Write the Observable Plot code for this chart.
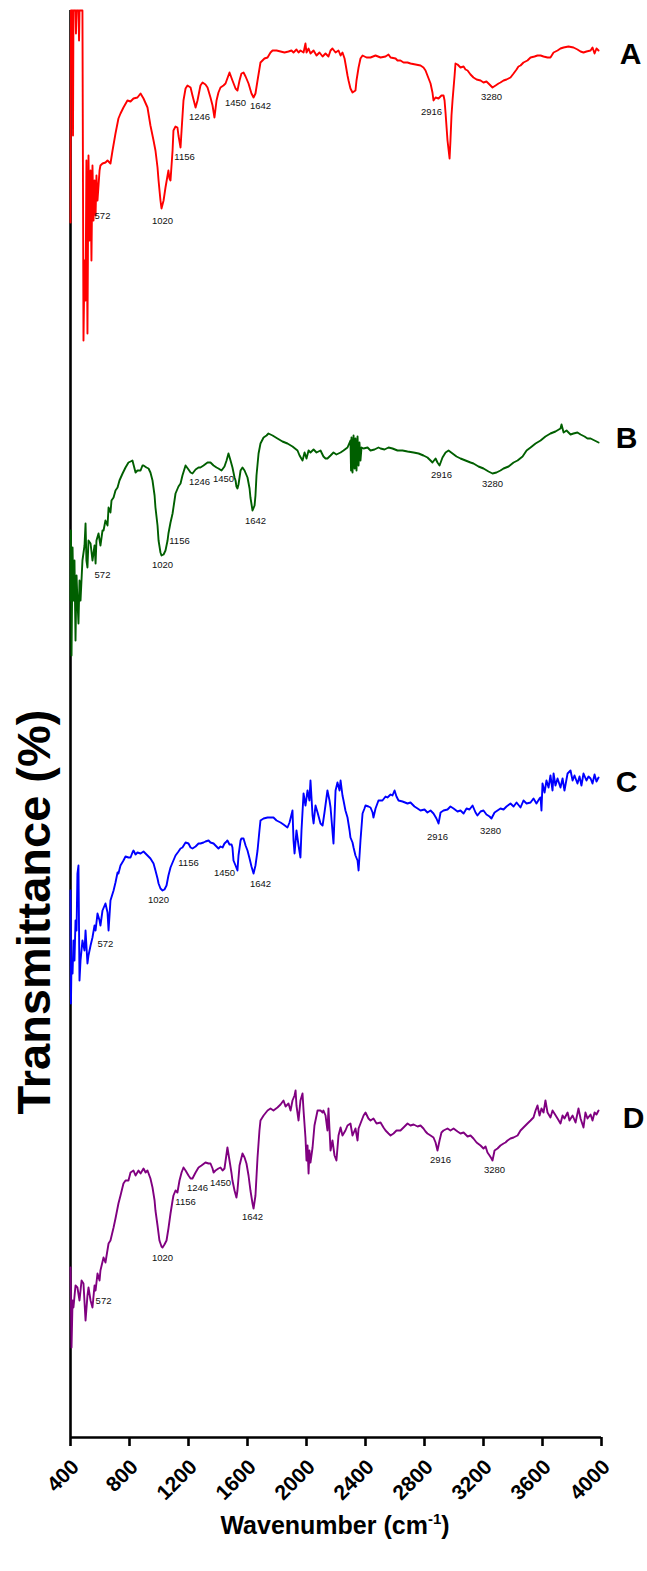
<!DOCTYPE html>
<html><head><meta charset="utf-8">
<script src="https://cdn.jsdelivr.net/npm/d3@7"></script>
<script src="https://cdn.jsdelivr.net/npm/@observablehq/plot@0.6"></script>
<style>body{margin:0;background:#fff;font-family:Arial,"Liberation Sans",sans-serif}</style>
</head><body><div id="chart"></div>
<script>
// FTIR spectra: [wavenumber (cm-1), stacked transmittance value]
const spectrumA = [[400,121.5],[403,142.7],[414,142.7],[417,130.2],[420,142.7],[434,142.7],[437,140.4],[441,142.7],[454,142.7],[458,139.7],[461,142.7],[481,142.7],[488,109.7],[495,117.7],[502,113.7],[508,127.7],[515,110.4],[522,128.2],[529,119.7],[536,126.7],[542,117.7],[549,127.2],[556,121.7],[563,125.7],[570,122.2],[576,126.2],[583,123.7],[597,126.7],[603,127.2],[617,127.4],[637,127.5],[651,127.7],[671,127.4],[685,128.7],[705,130.4],[725,131.9],[739,132.4],[759,133.0],[786,133.7],[807,133.6],[827,133.9],[854,134.0],[875,134.4],[895,133.9],[922,133.0],[942,131.2],[963,129.7],[976,128.7],[990,127.0],[997,125.7],[1010,123.7],[1017,122.9],[1031,123.7],[1044,125.0],[1058,126.2],[1064,126.7],[1071,125.9],[1078,125.7],[1092,128.7],[1098,130.7],[1112,131.1],[1125,131.0],[1132,130.2],[1146,129.0],[1153,130.7],[1166,133.7],[1180,134.9],[1193,135.2],[1214,135.0],[1227,134.2],[1248,133.0],[1261,133.7],[1281,135.2],[1295,135.5],[1315,135.3],[1329,135.0],[1349,134.0],[1363,133.2],[1376,132.0],[1390,133.7],[1403,134.5],[1417,135.0],[1437,135.2],[1451,135.4],[1478,136.5],[1498,135.7],[1519,134.9],[1532,134.7],[1546,135.7],[1559,136.4],[1573,136.5],[1587,136.1],[1607,135.4],[1627,134.4],[1641,134.0],[1654,134.4],[1668,135.7],[1688,137.5],[1715,137.9],[1736,138.0],[1756,138.5],[1770,138.7],[1797,138.7],[1824,138.6],[1851,138.5],[1878,138.6],[1898,138.7],[1912,138.5],[1932,138.8],[1946,138.5],[1959,138.7],[1980,138.5],[1993,139.4],[2000,138.5],[2014,138.9],[2027,138.4],[2048,138.7],[2068,138.2],[2088,138.5],[2109,138.1],[2129,138.4],[2149,138.1],[2163,138.7],[2176,138.9],[2197,138.5],[2217,138.7],[2231,138.2],[2244,138.5],[2258,137.9],[2264,137.4],[2278,136.2],[2285,135.7],[2298,134.9],[2312,134.5],[2332,134.7],[2339,135.7],[2353,137.0],[2366,137.9],[2380,138.2],[2407,138.0],[2434,138.0],[2468,138.2],[2502,138.0],[2536,138.1],[2556,138.3],[2570,138.0],[2604,137.9],[2617,137.7],[2637,137.7],[2658,137.5],[2685,137.5],[2705,137.4],[2739,137.3],[2773,137.2],[2793,137.0],[2807,136.7],[2820,136.2],[2841,135.4],[2854,134.5],[2861,133.7],[2875,134.0],[2895,133.9],[2915,134.2],[2929,134.2],[2936,133.7],[2943,132.4],[2956,129.7],[2970,127.9],[2976,129.7],[2983,132.2],[2990,133.7],[3004,136.2],[3010,137.4],[3024,137.3],[3044,137.0],[3065,137.1],[3078,136.8],[3092,136.7],[3112,136.3],[3132,136.0],[3153,135.8],[3180,135.7],[3200,135.5],[3220,135.6],[3241,135.3],[3261,135.0],[3282,135.2],[3302,135.4],[3315,135.5],[3336,135.7],[3356,135.8],[3383,136.0],[3404,136.4],[3424,136.8],[3437,137.1],[3451,137.2],[3471,137.5],[3498,137.7],[3519,138.0],[3546,138.1],[3566,138.2],[3587,138.2],[3607,138.1],[3634,138.0],[3654,138.0],[3675,138.5],[3702,138.7],[3722,138.9],[3743,139.0],[3776,139.1],[3810,139.0],[3837,138.8],[3858,138.6],[3878,138.5],[3898,138.6],[3926,138.7],[3939,139.0],[3953,138.4],[3966,138.9],[3980,138.7]];

const spectrumB = [[400,83.7],[403,90.7],[407,78.2],[414,89.0],[420,83.7],[427,87.7],[434,79.7],[441,86.2],[447,83.7],[454,81.4],[461,85.7],[468,83.7],[481,87.7],[495,89.2],[502,91.4],[508,87.7],[515,87.0],[522,89.7],[536,89.4],[549,87.7],[563,89.2],[570,87.4],[576,89.7],[590,90.4],[603,89.2],[617,90.7],[624,90.7],[637,91.7],[651,91.2],[658,93.0],[671,92.5],[678,93.7],[692,94.0],[705,94.7],[719,95.0],[732,95.7],[753,96.4],[773,97.0],[793,97.5],[807,97.6],[820,97.7],[834,96.9],[841,96.5],[854,96.7],[875,96.7],[888,97.2],[895,97.2],[915,97.0],[929,96.9],[942,96.5],[956,95.7],[970,94.2],[976,93.0],[990,91.2],[997,89.7],[1010,88.5],[1017,88.2],[1031,88.3],[1044,88.7],[1058,89.7],[1064,90.4],[1078,91.5],[1092,92.4],[1105,93.7],[1112,94.4],[1132,95.1],[1146,95.4],[1159,96.2],[1180,97.2],[1200,96.8],[1214,96.5],[1227,96.4],[1248,96.8],[1268,97.0],[1281,97.0],[1302,97.2],[1329,97.5],[1349,97.5],[1370,97.2],[1390,97.0],[1403,96.9],[1424,96.7],[1444,97.1],[1458,97.7],[1471,98.4],[1485,97.7],[1498,97.0],[1512,96.0],[1519,95.7],[1525,95.1],[1532,94.9],[1539,95.3],[1553,96.7],[1566,97.0],[1580,96.7],[1600,96.0],[1614,94.9],[1620,94.0],[1634,92.7],[1648,93.2],[1654,94.2],[1661,96.2],[1675,98.4],[1688,99.4],[1709,100.0],[1729,100.2],[1742,100.4],[1770,100.2],[1803,99.9],[1837,99.6],[1871,99.4],[1905,99.1],[1939,98.7],[1953,98.2],[1973,97.7],[1987,98.5],[2000,97.9],[2014,98.7],[2027,98.5],[2048,98.8],[2068,98.5],[2095,98.7],[2115,98.1],[2129,97.9],[2142,97.9],[2163,98.2],[2183,98.5],[2203,98.3],[2231,98.5],[2251,98.7],[2278,99.0],[2298,99.7],[2302,96.7],[2305,100.0],[2312,96.5],[2319,100.2],[2326,96.9],[2332,99.9],[2339,96.7],[2346,100.1],[2353,97.2],[2359,99.5],[2366,97.7],[2373,99.0],[2387,98.9],[2414,99.0],[2434,98.7],[2461,98.8],[2488,99.0],[2502,98.9],[2529,98.8],[2556,99.0],[2583,98.9],[2617,98.7],[2651,98.7],[2685,98.6],[2726,98.5],[2760,98.4],[2793,98.2],[2820,98.0],[2841,97.7],[2854,97.5],[2875,97.9],[2888,97.5],[2902,97.2],[2922,98.0],[2943,98.5],[2963,98.7],[2990,98.4],[3017,98.1],[3044,97.9],[3078,97.7],[3112,97.5],[3132,97.4],[3166,97.1],[3200,96.9],[3234,96.6],[3261,96.4],[3288,96.5],[3315,96.7],[3336,96.9],[3370,97.1],[3404,97.5],[3431,97.7],[3465,98.1],[3492,98.7],[3519,99.0],[3553,99.4],[3587,99.7],[3620,100.1],[3654,100.4],[3688,100.6],[3722,100.9],[3729,101.3],[3743,100.5],[3763,100.7],[3790,100.3],[3810,100.4],[3837,100.5],[3858,100.3],[3885,100.1],[3905,99.9],[3926,99.9],[3953,99.7],[3980,99.5]];

const spectrumC = [[400,54.7],[403,43.4],[407,47.7],[414,46.4],[420,49.7],[427,47.7],[434,51.7],[441,50.7],[447,56.4],[454,57.2],[461,45.7],[468,47.7],[481,49.7],[495,48.7],[502,50.7],[515,47.4],[522,48.2],[536,49.2],[549,50.0],[563,51.2],[570,50.7],[583,52.4],[597,51.7],[603,51.2],[617,52.7],[637,53.4],[651,52.5],[658,50.7],[671,53.7],[692,54.7],[705,55.5],[719,56.5],[725,56.4],[739,57.2],[759,57.7],[773,58.1],[793,58.0],[807,58.0],[820,58.5],[827,58.7],[841,58.3],[854,58.5],[875,58.4],[895,58.6],[922,58.2],[942,57.9],[963,57.4],[976,56.7],[990,55.9],[997,55.4],[1010,54.9],[1024,54.7],[1037,54.8],[1051,55.2],[1064,56.2],[1078,57.0],[1092,57.5],[1112,58.2],[1132,58.6],[1146,58.9],[1159,59.0],[1180,59.5],[1200,59.4],[1214,59.0],[1227,58.9],[1248,59.1],[1268,59.4],[1281,59.4],[1302,59.5],[1315,59.6],[1336,59.7],[1349,59.5],[1370,59.4],[1383,59.2],[1403,58.9],[1417,59.1],[1431,59.0],[1444,59.4],[1458,59.6],[1464,59.7],[1478,59.3],[1492,59.3],[1498,59.0],[1505,57.7],[1519,57.2],[1532,56.7],[1539,58.2],[1553,59.7],[1559,59.9],[1573,59.9],[1587,59.2],[1600,58.7],[1614,57.9],[1627,57.1],[1641,56.4],[1654,57.2],[1668,58.7],[1681,60.7],[1688,61.7],[1709,61.9],[1736,62.0],[1756,62.0],[1776,62.0],[1797,61.7],[1824,61.5],[1844,61.3],[1871,61.0],[1885,61.5],[1905,62.7],[1912,59.7],[1919,58.4],[1932,60.7],[1946,59.2],[1959,58.0],[1966,60.7],[1980,64.4],[1993,63.2],[2007,64.7],[2020,63.7],[2027,65.7],[2041,62.2],[2048,61.4],[2061,63.2],[2075,62.5],[2095,61.4],[2109,61.2],[2122,62.5],[2142,64.7],[2156,63.7],[2163,63.0],[2183,59.4],[2197,64.7],[2210,65.5],[2224,64.7],[2231,65.7],[2244,64.2],[2251,63.7],[2264,62.7],[2278,62.0],[2292,60.7],[2298,60.0],[2312,59.5],[2319,59.0],[2332,58.2],[2346,57.7],[2353,56.7],[2366,59.7],[2380,62.4],[2393,62.9],[2400,63.2],[2420,63.1],[2434,63.0],[2448,62.5],[2454,62.0],[2468,62.9],[2488,63.7],[2515,63.7],[2536,64.1],[2549,64.0],[2570,64.3],[2583,64.2],[2597,64.7],[2610,64.1],[2624,63.7],[2651,63.6],[2685,63.4],[2705,63.5],[2732,63.1],[2753,62.9],[2773,62.7],[2800,62.8],[2820,62.5],[2841,62.7],[2861,62.4],[2881,61.9],[2895,61.4],[2909,62.5],[2929,62.7],[2956,62.8],[2976,63.1],[2997,62.9],[3024,62.6],[3044,62.7],[3065,62.4],[3085,62.9],[3105,62.8],[3126,63.2],[3146,62.5],[3159,62.2],[3180,62.6],[3200,62.7],[3220,62.3],[3241,62.1],[3254,61.9],[3275,62.5],[3295,62.7],[3315,62.9],[3336,62.8],[3356,63.1],[3383,63.4],[3404,63.1],[3424,63.5],[3451,63.0],[3471,63.7],[3492,63.4],[3519,63.5],[3539,63.9],[3559,63.4],[3580,63.9],[3587,64.0],[3593,62.7],[3600,65.4],[3614,64.5],[3627,65.7],[3641,65.0],[3654,66.2],[3668,64.7],[3675,66.4],[3688,65.2],[3702,65.9],[3722,65.0],[3736,65.9],[3749,64.7],[3770,66.4],[3790,66.7],[3804,65.7],[3817,66.2],[3837,65.4],[3851,66.1],[3864,65.2],[3878,66.4],[3898,65.7],[3912,66.1],[3926,65.9],[3939,65.4],[3953,66.3],[3966,65.6],[3980,66.0]];

const spectrumD = [[400,17.0],[407,9.0],[414,13.7],[420,13.0],[434,15.2],[447,15.0],[461,13.7],[475,15.7],[488,15.4],[502,11.7],[515,14.2],[522,15.0],[536,13.7],[549,13.0],[563,15.2],[570,14.7],[583,16.4],[597,15.7],[603,16.7],[624,18.0],[637,17.5],[658,19.4],[671,19.7],[692,21.0],[705,21.9],[725,23.4],[739,24.2],[759,25.4],[773,25.7],[793,25.7],[807,26.5],[827,26.7],[841,26.2],[861,26.7],[875,26.4],[895,26.9],[909,26.5],[922,26.7],[942,25.9],[956,25.0],[970,23.7],[976,22.7],[990,21.2],[1003,19.7],[1017,19.1],[1024,19.0],[1037,19.3],[1051,19.7],[1064,20.9],[1078,22.4],[1092,23.7],[1098,24.2],[1112,24.7],[1125,24.5],[1139,25.7],[1153,26.5],[1166,27.0],[1180,26.7],[1200,26.2],[1214,25.9],[1227,25.9],[1248,26.5],[1268,27.0],[1288,27.2],[1315,27.5],[1336,27.4],[1349,27.4],[1363,26.9],[1370,26.5],[1383,26.7],[1403,26.9],[1417,27.0],[1431,26.7],[1444,26.9],[1464,29.0],[1478,27.7],[1492,26.4],[1498,25.7],[1512,24.7],[1525,24.0],[1532,24.7],[1546,27.2],[1566,28.4],[1580,28.0],[1593,27.4],[1607,26.2],[1620,24.7],[1634,23.4],[1641,22.9],[1654,24.2],[1668,28.0],[1681,30.7],[1688,31.7],[1709,32.2],[1736,32.7],[1756,32.9],[1776,32.7],[1803,33.0],[1824,33.3],[1844,33.7],[1858,33.1],[1878,33.4],[1892,32.7],[1905,33.7],[1919,34.2],[1926,34.7],[1932,33.2],[1946,31.7],[1959,33.7],[1973,34.4],[1980,32.7],[1993,30.0],[2000,27.7],[2007,29.2],[2014,26.4],[2020,28.7],[2027,27.5],[2041,29.0],[2054,31.2],[2075,32.7],[2095,32.7],[2109,32.5],[2115,32.7],[2129,32.2],[2142,30.7],[2149,32.9],[2163,28.7],[2176,29.7],[2190,28.2],[2203,27.7],[2217,30.2],[2231,31.0],[2244,30.2],[2264,30.7],[2278,31.2],[2298,31.4],[2312,30.2],[2332,30.9],[2346,29.7],[2353,30.9],[2366,31.4],[2387,32.2],[2400,32.5],[2420,31.9],[2434,31.7],[2454,31.9],[2475,31.4],[2502,31.5],[2522,31.0],[2536,30.7],[2556,30.4],[2570,30.2],[2590,30.4],[2610,30.7],[2637,30.7],[2658,31.0],[2685,31.4],[2705,31.2],[2726,31.3],[2753,31.1],[2773,31.2],[2793,30.9],[2807,30.6],[2820,30.4],[2841,30.2],[2861,30.0],[2875,29.5],[2888,28.7],[2902,29.7],[2915,30.5],[2929,30.7],[2956,30.9],[2976,30.7],[2997,30.9],[3024,30.6],[3044,30.4],[3065,30.5],[3092,30.1],[3112,30.2],[3132,29.9],[3153,29.5],[3180,29.2],[3200,28.9],[3214,29.1],[3227,28.5],[3241,28.2],[3254,27.9],[3261,27.7],[3275,28.7],[3295,28.9],[3315,29.2],[3336,29.4],[3349,29.5],[3363,29.7],[3383,29.9],[3404,30.0],[3417,30.1],[3431,30.2],[3451,30.7],[3471,31.0],[3498,31.4],[3519,31.7],[3532,31.9],[3539,32.0],[3553,32.7],[3566,33.2],[3580,32.2],[3593,32.9],[3607,32.5],[3620,33.7],[3634,32.5],[3654,32.0],[3668,32.7],[3681,32.4],[3702,31.9],[3722,31.4],[3736,32.2],[3749,31.9],[3770,32.5],[3783,31.7],[3804,32.2],[3824,31.5],[3844,32.9],[3858,31.9],[3878,31.0],[3891,32.5],[3905,31.9],[3926,32.3],[3939,31.7],[3953,32.5],[3966,32.3],[3980,32.7]];

// peak annotations: [text, wavenumber position, value position]
const peaksA = [["572",617,122.2],["1020",1024,121.7],["1156",1173,128.1],["1246",1275,132.1],["1450",1519,133.5],["1642",1688,133.2],["2916",2848,132.6],["3280",3254,134.1]];
const peaksB = [["572",617,86.3],["1020",1024,87.3],["1156",1139,89.7],["1246",1275,95.6],["1450",1437,95.9],["1642",1654,91.7],["2916",2915,96.3],["3280",3261,95.4]];
const peaksC = [["572",637,49.4],["1020",997,53.8],["1156",1200,57.5],["1450",1444,56.5],["1642",1688,55.4],["2916",2888,60.1],["3280",3248,60.7]];
const peaksD = [["572",624,13.7],["1020",1024,18.0],["1156",1180,23.6],["1246",1261,25.0],["1450",1417,25.5],["1642",1634,22.1],["2916",2909,27.8],["3280",3275,26.8]];

const sampleNames = ["A","B","C","D"];
const namePos = [[4197,138.3],[4170,99.9],[4170,65.5],[4217,31.9]];
const colors = ["#ff0000","#005f00","#0000ff","#800080"];
const xTicks = [400,800,1200,1600,2000,2400,2800,3200,3600,4000];
const xLabel = "Wavenumber (cm";
const xLabelSup = "-1";
const yLabel = "Transmittance (%)";

const spectra = [spectrumA, spectrumB, spectrumC, spectrumD];
const peaks = [peaksA, peaksB, peaksC, peaksD];

const lineData = spectra.flatMap((s, i) => s.map(([w, t]) => ({w, t, k: sampleNames[i]})));
const peakData = peaks.flatMap(p => p.map(([label, w, t]) => ({label, w, t})));
const nameData = sampleNames.map((n, i) => ({n, w: namePos[i][0], t: namePos[i][1]}));

const W = 647, H = 1571;
const chart = Plot.plot({
  width: W, height: H,
  marginLeft: 70, marginRight: 46, marginTop: 10, marginBottom: 134,
  style: {fontFamily: "Arial, 'Liberation Sans', sans-serif", background: "#fff", overflow: "visible"},
  x: {domain: [400, 4000], axis: null},
  y: {domain: [0, 142.7], axis: null},
  color: {domain: sampleNames, range: colors},
  marks: [
    Plot.ruleX([400], {stroke: "#000", strokeWidth: 2.6}),
    Plot.ruleY([0], {stroke: "#000", strokeWidth: 2.6}),
    Plot.axisX({ticks: xTicks, tickSize: 9, strokeWidth: 2.6, label: null, tickFormat: () => ""}),
    Plot.text(xTicks, {x: d => d, y: 0, text: d => String(d), rotate: -45, textAnchor: "end",
      dx: 5, dy: 26, fontSize: 21, fontWeight: "bold", fill: "#000"}),
    Plot.line(lineData, {x: "w", y: "t", z: "k", stroke: "k", strokeWidth: 1.9, curve: "linear"}),
    Plot.text(peakData, {x: "w", y: "t", text: "label", fontSize: 9.5, fill: "#111"}),
    Plot.text(nameData, {x: "w", y: "t", text: "n", fontSize: 30, fontWeight: "bold", fill: "#000"})
  ]
});
document.getElementById("chart").appendChild(chart);

const svg = d3.select(chart);
// y title
svg.append("text")
  .attr("transform", "translate(50,912) rotate(-90)")
  .attr("text-anchor", "middle")
  .attr("font-size", 47).attr("font-weight", "bold").attr("fill", "#000")
  .text(yLabel);
// x title with superscript
const xt = svg.append("text")
  .attr("x", 335).attr("y", 1534)
  .attr("text-anchor", "middle")
  .attr("font-size", 25).attr("font-weight", "bold").attr("fill", "#000");
xt.append("tspan").text(xLabel);
xt.append("tspan").attr("dy", -10).attr("font-size", 15).text(xLabelSup);
xt.append("tspan").attr("dy", 10).text(")");
</script></body></html>
